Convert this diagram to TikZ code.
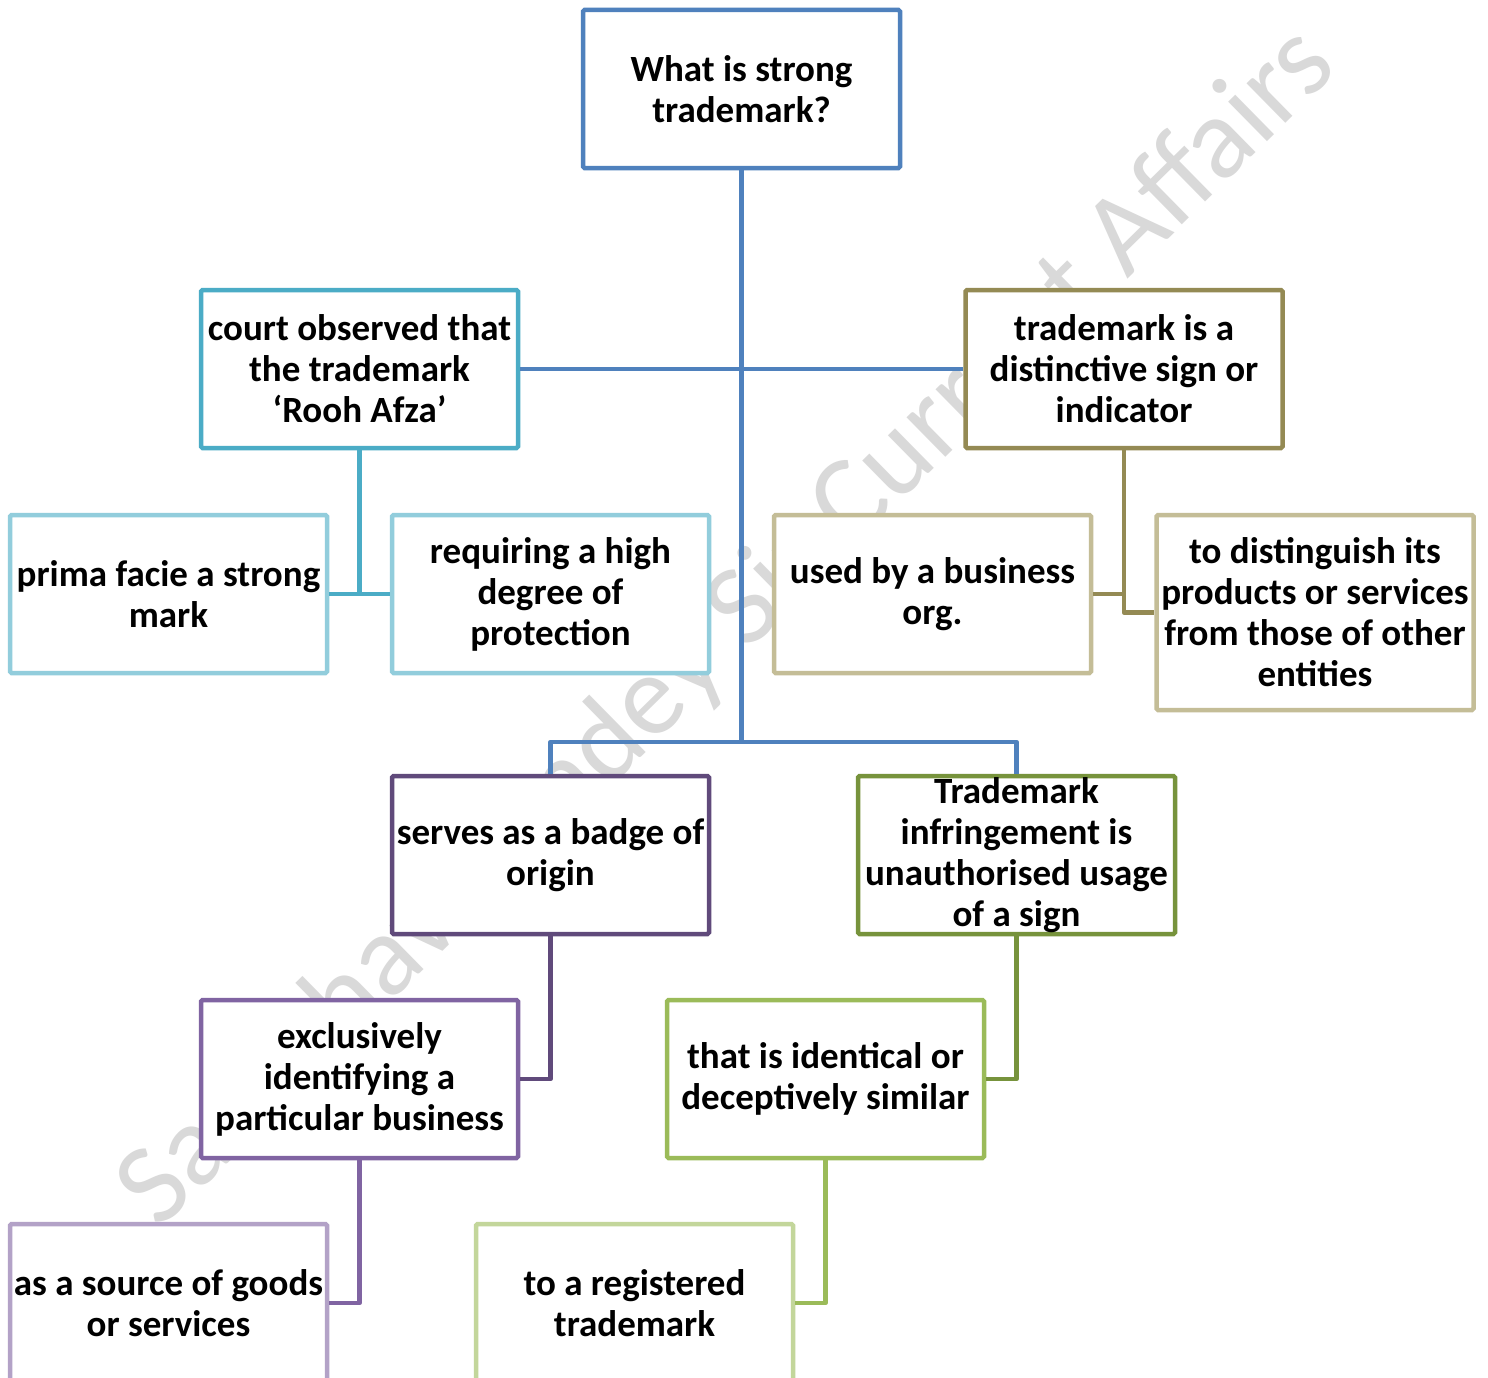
\documentclass[tikz,border=0pt]{standalone}
\usepackage{fontspec}
\setmainfont{Carlito}
\definecolor{cBlue}{HTML}{4F81BD}
\definecolor{cTeal}{HTML}{4BACC6}
\definecolor{cTealL}{HTML}{92CDDC}
\definecolor{cOlive}{HTML}{948A54}
\definecolor{cOliveL}{HTML}{C4BD97}
\definecolor{cPurD}{HTML}{604A7B}
\definecolor{cPur}{HTML}{8064A2}
\definecolor{cPurL}{HTML}{B3A2C7}
\definecolor{cGrnD}{HTML}{77933C}
\definecolor{cGrn}{HTML}{9BBB59}
\definecolor{cGrnL}{HTML}{C3D69B}
\definecolor{cWm}{HTML}{D9D9D9}
\begin{document}
\begin{tikzpicture}[x=1pt,y=-1pt,
  box/.style={draw, fill=white, line width=4.5pt, rounded corners=1.5pt,
    minimum width=317pt, minimum height=158pt, inner sep=0pt, align=center,
    font=\fontsize{37}{41}\selectfont\bfseries},
  conn/.style={line width=4.5pt, line join=round}]
\useasboundingbox (0,0) rectangle (1488,1378);
\fill[white] (0,0) rectangle (1488,1378);
% watermark
\node[text=cWm, rotate=44.5, font=\fontsize{116}{120}\selectfont, inner sep=0pt] (wm) at (728,628) {Sambhav Pandey Sir Current Affairs};
\coordinate (j1) at (741.5,742);
% nodes
\node[box, draw=cBlue] (top) at (741.5,89) {What is strong\\trademark?};
\node[box, draw=cTeal] (court) at (359.5,369) {court observed that\\the trademark\\‘Rooh Afza’};
\node[box, draw=cOlive] (tm) at (1124,369) {trademark is a\\distinctive sign or\\indicator};
\node[box, draw=cTealL] (prima) at (168.5,594) {prima facie a strong\\mark};
\node[box, draw=cTealL] (req) at (550.5,594) {requiring a high\\degree of\\protection};
\node[box, draw=cOliveL] (used) at (932.5,594) {used by a business\\org.};
\node[box, draw=cOliveL, minimum height=195pt] (dist) at (1315,612.5) {to distinguish its\\products or services\\from those of other\\entities};
\node[box, draw=cPurD] (serves) at (550.5,855) {serves as a badge of\\origin};
\node[box, draw=cGrnD] (infr) at (1016.5,855) {Trademark\\infringement is\\unauthorised usage\\of a sign};
\node[box, draw=cPur] (excl) at (359.5,1079) {exclusively\\identifying a\\particular business};
\node[box, draw=cGrn] (ident) at (825.5,1079) {that is identical or\\deceptively similar};
\node[box, draw=cPurL] (src) at (168.5,1303) {as a source of goods\\or services};
\node[box, draw=cGrnL] (reg) at (634.5,1303) {to a registered\\trademark};
% connectors
\draw[conn, cBlue] (top.south) -- (j1);
\draw[conn, cBlue] (court.east) -- (tm.west);
\draw[conn, cBlue] (serves.north) -- (serves.north |- j1) -- (infr.north |- j1) -- (infr.north);
\draw[conn, cTeal] (court.south) -- (court.south |- prima.east);
\draw[conn, cTeal] (prima.east) -- (req.west);
\draw[conn, cOlive] (tm.south) |- (dist.west);
\draw[conn, cOlive] (used.east) -- (used.east -| tm.south);
\draw[conn, cPurD] (serves.south) |- (excl.east);
\draw[conn, cGrnD] (infr.south) |- (ident.east);
\draw[conn, cPur] (excl.south) |- (src.east);
\draw[conn, cGrn] (ident.south) |- (reg.east);
\end{tikzpicture}
\end{document}
